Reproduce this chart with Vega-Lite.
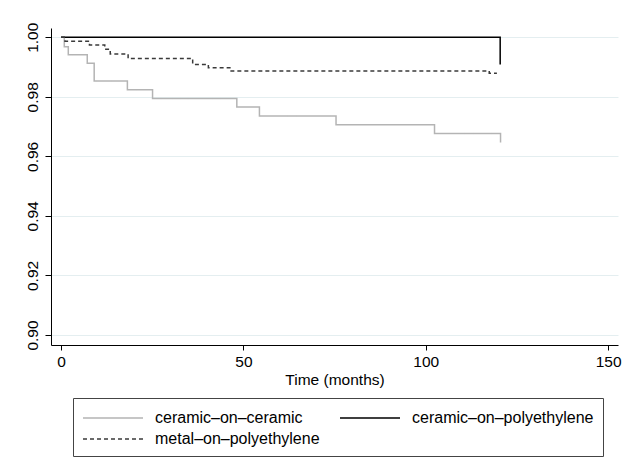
{
  "$schema": "https://vega.github.io/schema/vega-lite/v6.json",
  "width": 567,
  "height": 317,
  "autosize": {"type": "none"},
  "padding": {"left": 51, "top": 28, "right": 12, "bottom": 120},
  "background": "white",
  "config": {"view": {"stroke": null}, "font": "Liberation Sans"},
  "data": {
    "values": [
      {"group": "ceramic–on–ceramic", "t": 0, "s": 1.0},
      {"group": "ceramic–on–ceramic", "t": 0.9, "s": 0.9968},
      {"group": "ceramic–on–ceramic", "t": 2.0, "s": 0.9941},
      {"group": "ceramic–on–ceramic", "t": 7.2, "s": 0.9913},
      {"group": "ceramic–on–ceramic", "t": 9.1, "s": 0.9853},
      {"group": "ceramic–on–ceramic", "t": 18.2, "s": 0.9824},
      {"group": "ceramic–on–ceramic", "t": 25.1, "s": 0.9794},
      {"group": "ceramic–on–ceramic", "t": 48.2, "s": 0.9766},
      {"group": "ceramic–on–ceramic", "t": 54.4, "s": 0.9736},
      {"group": "ceramic–on–ceramic", "t": 75.4, "s": 0.9706},
      {"group": "ceramic–on–ceramic", "t": 102.4, "s": 0.9677},
      {"group": "ceramic–on–ceramic", "t": 120.5, "s": 0.9647},
      {"group": "ceramic–on–polyethylene", "t": 0, "s": 1.0},
      {"group": "ceramic–on–polyethylene", "t": 120.4, "s": 0.9909},
      {"group": "metal–on–polyethylene", "t": 0, "s": 1.0},
      {"group": "metal–on–polyethylene", "t": 1.1, "s": 0.9987},
      {"group": "metal–on–polyethylene", "t": 7.8, "s": 0.9974},
      {"group": "metal–on–polyethylene", "t": 12.0, "s": 0.996},
      {"group": "metal–on–polyethylene", "t": 13.5, "s": 0.9944},
      {"group": "metal–on–polyethylene", "t": 18.4, "s": 0.9929},
      {"group": "metal–on–polyethylene", "t": 36.1, "s": 0.9909},
      {"group": "metal–on–polyethylene", "t": 40.4, "s": 0.9898},
      {"group": "metal–on–polyethylene", "t": 46.3, "s": 0.9887},
      {"group": "metal–on–polyethylene", "t": 117.4, "s": 0.9879},
      {"group": "metal–on–polyethylene", "t": 119.5, "s": 0.9879}
    ]
  },
  "mark": {"type": "line", "interpolate": "step-after", "strokeWidth": 1.5},
  "encoding": {
    "x": {
      "field": "t", "type": "quantitative",
      "scale": {"domain": [-2.74, 152.7], "nice": false, "zero": false},
      "axis": {
        "values": [0, 50, 100, 150], "title": "Time (months)", "grid": false,
        "domainColor": "black", "tickColor": "black", "tickSize": 5,
        "labelFontSize": 15.5, "titleFontSize": 15.5, "titleFontWeight": "normal",
        "labelPadding": 4, "titlePadding": 3, "labelColor": "black", "titleColor": "black",
        "labelFlush": false
      }
    },
    "y": {
      "field": "s", "type": "quantitative",
      "scale": {"domain": [0.89664, 1.00312], "nice": false, "zero": false},
      "axis": {
        "values": [0.9, 0.92, 0.94, 0.96, 0.98, 1.0], "format": ".2f", "title": null,
        "grid": true, "gridColor": "#e4eef0", "domainColor": "black", "tickColor": "black",
        "tickSize": 6, "labelAngle": -90, "labelAlign": "center", "labelBaseline": "alphabetic",
        "labelPadding": 8, "labelFontSize": 15.5, "labelColor": "black", "labelFlush": false
      }
    },
    "color": {
      "field": "group", "type": "nominal",
      "scale": {
        "domain": ["ceramic–on–ceramic", "ceramic–on–polyethylene", "metal–on–polyethylene"],
        "range": ["#b4b4b4", "#000000", "#3a3a3a"]
      },
      "legend": {
        "title": null, "orient": "none", "legendX": 22, "legendY": 370, "columns": 2,
        "direction": "horizontal",
        "strokeColor": "#444444", "padding": 9, "symbolType": "M-1,0H5", "symbolSize": 400,
        "symbolStrokeWidth": 1.3, "labelFontSize": 16, "labelOffset": 51, "labelLimit": 300,
        "columnPadding": 17, "rowPadding": 2, "labelColor": "black"
      }
    },
    "strokeDash": {
      "field": "group", "type": "nominal",
      "scale": {
        "domain": ["ceramic–on–ceramic", "ceramic–on–polyethylene", "metal–on–polyethylene"],
        "range": [[1, 0], [1, 0], [4, 3]]
      },
      "legend": {
        "title": null, "orient": "none", "legendX": 22, "legendY": 370, "columns": 2,
        "direction": "horizontal",
        "strokeColor": "#444444", "padding": 9, "symbolType": "M-1,0H5", "symbolSize": 400,
        "symbolStrokeWidth": 1.3, "labelFontSize": 16, "labelOffset": 51, "labelLimit": 300,
        "columnPadding": 17, "rowPadding": 2, "labelColor": "black"
      }
    }
  }
}
